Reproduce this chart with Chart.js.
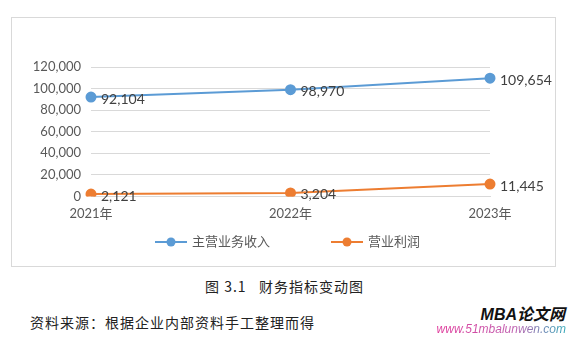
<!DOCTYPE html>
<html>
<head>
<meta charset="utf-8">
<script src="https://cdn.jsdelivr.net/npm/chart.js@4"></script>
<style>
  body { margin: 0; width: 569px; height: 338px; background: #fff; position: relative; overflow: hidden;
         font-family: "Noto Sans CJK SC", sans-serif; }
  #frame { position: absolute; left: 11px; top: 17px; width: 545px; height: 250px; border: 1px solid #d9d9d9; box-sizing: border-box; }
  .leg { position: absolute; top: 231px; height: 18px; line-height: 18px; font: 13px Lato, "Noto Sans CJK SC", sans-serif; color: #595959; }
  .leg canvas { vertical-align: middle; margin-right: 5px; position: relative; top: -1px; }
  #caption { position: absolute; left: 0; width: 569px; top: 276px; text-align: center; font-size: 14px; color: #222; letter-spacing: 1px; }
  #source { position: absolute; left: 30px; top: 312px; font-size: 14px; color: #222; letter-spacing: 1px; }
  #wm1 { position: absolute; right: 4px; top: 301px; font: italic bold 16px "Liberation Sans", "Noto Sans CJK SC", sans-serif; color: #111; }
  #wm2 { position: absolute; right: 3px; top: 322px; font: italic 12px "Liberation Sans", sans-serif;
         background: linear-gradient(90deg, #e0389a, #c060b0 60%, #30a8b8); -webkit-background-clip: text; background-clip: text; color: transparent; }
</style>
</head>
<body>
<div id="frame"><canvas id="chart" width="543" height="248"></canvas></div>
<div class="leg" id="leg0" style="left:155px"></div>
<div class="leg" id="leg1" style="left:331px"></div>
<div id="caption">图 3.1&nbsp;&nbsp;&nbsp;财务指标变动图</div>
<div id="source">资料来源：根据企业内部资料手工整理而得</div>
<div id="wm1">MBA论文网</div>
<div id="wm2">www.51mbalunwen.com</div>
<script>
// 财务指标变动图
const years = ['2021年', '2022年', '2023年'];
const revenue = [92104, 98970, 109654];   // 主营业务收入
const profit = [2121, 3204, 11445];       // 营业利润
const yTicks = [0, 20000, 40000, 60000, 80000, 100000, 120000];
const seriesNames = ['主营业务收入', '营业利润'];

const BLUE = '#5b9bd5';
const ORANGE = '#ed7d31';
const FONT = 'Lato, "Noto Sans CJK SC", sans-serif';

// legend marker: short line with a dot, like Excel
function legendMark(color) {
  const c = document.createElement('canvas');
  c.width = 32; c.height = 10;
  const g = c.getContext('2d');
  g.strokeStyle = color; g.lineWidth = 2;
  g.beginPath(); g.moveTo(0, 5); g.lineTo(32, 5); g.stroke();
  g.fillStyle = color;
  g.beginPath(); g.arc(16, 5, 4.5, 0, Math.PI * 2); g.fill();
  return c;
}

[BLUE, ORANGE].forEach((col, i) => {
  const el = document.getElementById('leg' + i);
  el.appendChild(legendMark(col));
  el.appendChild(document.createTextNode(seriesNames[i]));
});

const valueLabels = {
  id: 'valueLabels',
  afterDatasetsDraw(chart) {
    const ctx = chart.ctx;
    ctx.save();
    ctx.font = '14px ' + FONT;
    ctx.fillStyle = '#404040';
    ctx.textBaseline = 'middle';
    ctx.textAlign = 'left';
    chart.data.datasets.forEach((ds, i) => {
      chart.getDatasetMeta(i).data.forEach((pt, j) => {
        ctx.fillText(ds.data[j].toLocaleString('en-US'), pt.x + 10, pt.y + 2);
      });
    });
    ctx.restore();
  },
};

new Chart(document.getElementById('chart'), {
  type: 'line',
  data: {
    labels: years,
    datasets: [
      { label: seriesNames[0], data: revenue, borderColor: BLUE, backgroundColor: BLUE,
        borderWidth: 2, pointRadius: 4.5 },
      { label: seriesNames[1], data: profit, borderColor: ORANGE, backgroundColor: ORANGE,
        borderWidth: 2, pointRadius: 4.5 },
    ],
  },
  options: {
    responsive: false,
    animation: false,
    layout: { padding: { top: 49, right: 65, left: 0, bottom: 42 } },
    plugins: {
      tooltip: { enabled: false },
      legend: { display: false },
    },
    scales: {
      x: {
        offset: false,
        grid: { display: false },
        border: { color: '#d9d9d9' },
        ticks: { color: '#595959', font: { family: FONT, size: 13 }, padding: 2, maxRotation: 0 },
      },
      y: {
        min: 0, max: 120000,
        afterBuildTicks: s => { s.ticks = yTicks.map(v => ({ value: v })); },
        afterFit: s => { s.width = 79; },
        grid: { color: '#d9d9d9', drawTicks: false },
        border: { display: false },
        ticks: { color: '#595959', font: { family: FONT, size: 13 }, padding: 10,
                 callback: v => v.toLocaleString('en-US') },
      },
    },
  },
  plugins: [valueLabels],
});
</script>
</body>
</html>
